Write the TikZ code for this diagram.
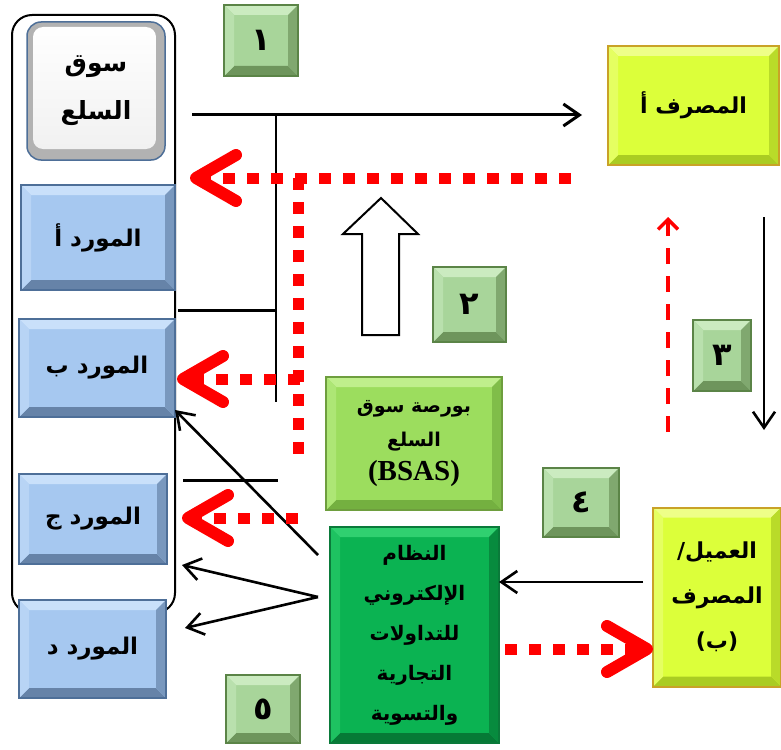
\documentclass[tikz,border=0pt]{standalone}
\usepackage{fontspec}
\usetikzlibrary{arrows.meta}
\TeXXeTstate=1
\newfontfamily\arfont[Script=Arabic]{DejaVu Sans}
\newfontfamily\latfont{Liberation Serif}
\newcommand\artxt[1]{{\arfont\bfseries\beginR #1\endR}}
\definecolor{blueF}{HTML}{A6C8F0}
\definecolor{blueL}{HTML}{C9E0FA}
\definecolor{blueD}{HTML}{6683A8}
\definecolor{blueB}{HTML}{4E6F98}
\definecolor{grnF}{HTML}{A8D59A}
\definecolor{grnL}{HTML}{CBEBC0}
\definecolor{grnD}{HTML}{6E955C}
\definecolor{grnB}{HTML}{5B8447}
\definecolor{ylwF}{HTML}{DCFF3A}
\definecolor{ylwL}{HTML}{EEFF88}
\definecolor{ylwD}{HTML}{AACC22}
\definecolor{ylwB}{HTML}{C9A227}
\definecolor{lgF}{HTML}{9CDD5E}
\definecolor{lgL}{HTML}{BFEF8C}
\definecolor{lgD}{HTML}{74B040}
\definecolor{lgB}{HTML}{6E9E3E}
\definecolor{dgF}{HTML}{0BB352}
\definecolor{dgL}{HTML}{30D070}
\definecolor{dgD}{HTML}{067A36}
\definecolor{dgB}{HTML}{0A7A3A}
\tikzset{
  bevbox/.style n args={4}{draw=#4, line width=1.2pt, fill=#1, inner sep=0pt, outer sep=0pt, align=center,
    path picture={
      \coordinate (ppnw) at (path picture bounding box.north west);
      \coordinate (ppne) at (path picture bounding box.north east);
      \coordinate (ppsw) at (path picture bounding box.south west);
      \coordinate (ppse) at (path picture bounding box.south east);
      \fill[#2] (ppnw) -- (ppne) -- ([xshift=-10pt,yshift=-10pt]ppne) -- ([xshift=10pt,yshift=-10pt]ppnw) -- cycle;
      \fill[#3] (ppsw) -- (ppse) -- ([xshift=-10pt,yshift=10pt]ppse) -- ([xshift=10pt,yshift=10pt]ppsw) -- cycle;
      \fill[#2!50!#1] (ppnw) -- ([xshift=10pt,yshift=-10pt]ppnw) -- ([xshift=10pt,yshift=10pt]ppsw) -- (ppsw) -- cycle;
      \fill[#3!70!#1] (ppne) -- ([xshift=-10pt,yshift=-10pt]ppne) -- ([xshift=-10pt,yshift=10pt]ppse) -- (ppse) -- cycle;
    }},
  bluebox/.style={bevbox={blueF}{blueL}{blueD}{blueB}, font=\fontsize{23}{28}\selectfont},
  numbox/.style={bevbox={grnF}{grnL}{grnD}{grnB}, font=\fontsize{32}{36}\selectfont},
  ylwbox/.style={bevbox={ylwF}{ylwL}{ylwD}{ylwB}, line width=2pt, font=\fontsize{22}{45}\selectfont},
  blk/.style={draw=black, line width=2.6pt},
  blkarr/.style={blk, -{Straight Barb[length=16pt,width=22pt]}},
  reddot/.style={draw=red, line width=11pt, dash pattern=on 12pt off 12pt},
  redarr/.style={reddot, -{Straight Barb[length=40pt,width=46pt,line width=12pt,round]}},
  reddash/.style={draw=red, line width=3.5pt, dash pattern=on 16pt off 12pt, -{Straight Barb[length=10pt,width=20pt]}}
}
\begin{document}
\begin{tikzpicture}[x=1pt,y=-1pt]
\useasboundingbox (0,0) rectangle (781,749);
\fill[white] (0,0) rectangle (781,749);
% outer frame
\draw[line width=2pt, rounded corners=20pt] (12,15) rectangle (175,613);
% market box
\node[rounded corners=14pt, draw=blueB, line width=1.5pt, fill=black!30,
      minimum width=138pt, minimum height=138pt, inner sep=0pt, align=center,
      font=\fontsize{25}{48}\selectfont,
      path picture={\shade[top color=white, bottom color=black!6, rounded corners=10pt]
        ([xshift=6pt,yshift=-5pt]path picture bounding box.north west) rectangle
        ([xshift=-9pt,yshift=11pt]path picture bounding box.south east);}] (souq) at (96,91)
      {\artxt{سوق}\\\artxt{السلع}};
% suppliers
\node[bluebox, minimum width=154pt, minimum height=105pt] (mA) at (98,237.5) {\artxt{المورد أ}};
\node[bluebox, minimum width=156pt, minimum height=98pt] (mB) at (97,368) {\artxt{المورد ب}};
\node[bluebox, minimum width=148pt, minimum height=90pt] (mJ) at (93,519) {\artxt{المورد ج}};
\node[bluebox, minimum width=147pt, minimum height=98pt] (mD) at (92.5,649) {\artxt{المورد د}};
% number squares
\node[numbox, minimum width=74pt, minimum height=71pt] (n1) at (261,40.5) {\artxt{١}};
\node[numbox, minimum width=73pt, minimum height=75pt] (n2) at (469.5,304.5) {\artxt{٢}};
\node[numbox, minimum width=58pt, minimum height=71pt] (n3) at (722,355.5) {\artxt{٣}};
\node[numbox, minimum width=76pt, minimum height=69pt] (n4) at (581,502.5) {\artxt{٤}};
\node[numbox, minimum width=74pt, minimum height=68pt] (n5) at (263,709) {\artxt{٥}};
% banks
\node[ylwbox, minimum width=171pt, minimum height=119pt] (bankA) at (693.5,105.5) {\artxt{المصرف أ}};
\node[ylwbox, minimum width=128pt, minimum height=179pt] (client) at (717,597) {\artxt{العميل/}\\\artxt{المصرف}\\{\arfont\bfseries (ب)}};
% exchange
\node[bevbox={lgF}{lgL}{lgD}{lgB}, minimum width=176pt, minimum height=133pt, font=\fontsize{19}{34}\selectfont] (bsas) at (414,443.5)
  {\artxt{بورصة سوق}\\\artxt{السلع}\\{\latfont\bfseries\fontsize{29}{30}\selectfont (BSAS)}};
\node[bevbox={dgF}{dgL}{dgD}{dgB}, minimum width=169pt, minimum height=216pt, font=\fontsize{20}{40}\selectfont] (sys) at (414.5,635)
  {\artxt{النظام}\\\artxt{الإلكتروني}\\\artxt{للتداولات}\\\artxt{التجارية}\\\artxt{والتسوية}};
% coordinates
\coordinate (tA1) at (192,115); \coordinate (tA2) at (582,115);
\coordinate (vT) at (276,115); \coordinate (vB) at (276,402);
\coordinate (h1L) at (178,310); \coordinate (h1R) at (276,310);
\coordinate (h2L) at (183,480); \coordinate (h2R) at (278,480);
\coordinate (rd1s) at (571,178); \coordinate (rd1e) at (190,178);
\coordinate (rdvT) at (298,178); \coordinate (rdvB) at (298,454);
\coordinate (rd2s) at (300,379); \coordinate (rd2e) at (177,379);
\coordinate (rd3s) at (298,518); \coordinate (rd3e) at (182,518);
\coordinate (rd4s) at (505,649);
\coordinate (rdu1) at (668,432); \coordinate (rdu2) at (668,217);
\coordinate (bd1) at (764,217); \coordinate (bd2) at (764,430);
\coordinate (cs) at (643,582);
\coordinate (s1) at (318,555); \coordinate (mBarr) at (175,410);
\coordinate (s2) at (318,597); \coordinate (e1) at (182,565); \coordinate (e2) at (185,628);
% black lines
\draw[blkarr, line width=3pt] (tA1) -- (tA2);
\draw[blk, line width=2pt] (vT) -- (vB);
\draw[blk, line width=3pt] (h1L) -- (h1R);
\draw[blk, line width=3pt] (h2L) -- (h2R);
\draw[blkarr] (bd1) -- (bd2);
\draw[blkarr] (cs) -- (sys.east |- cs);
\draw[blkarr] (s1) -- (mBarr);
\draw[blkarr] (s2) -- (e1);
\draw[blkarr] (s2) -- (e2);
% hollow arrow
\draw[line width=2pt, fill=white] (362,335) -- (362,234) -- (343,234) -- (381,198) -- (418,234) -- (399,234) -- (399,335) -- cycle;
% red arrows
\draw[reddot] (rdvT) -- (rdvB);
\draw[redarr] (rd1s) -- (rd1e);
\draw[redarr] (rd2s) -- (rd2e);
\draw[redarr] (rd3s) -- (rd3e);
\draw[redarr] (rd4s) -- (client.west |- rd4s);
\draw[reddash] (rdu1) -- (rdu2);
\end{tikzpicture}
\end{document}
